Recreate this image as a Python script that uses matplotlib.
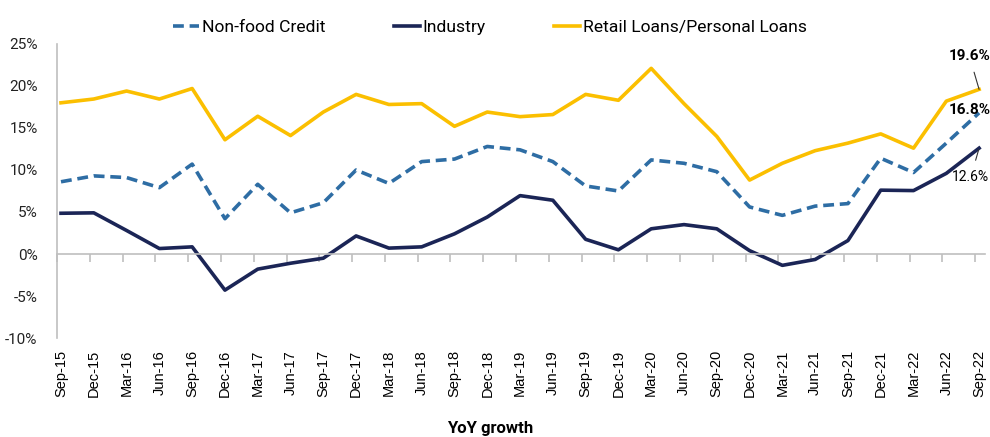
import numpy as np
import matplotlib
matplotlib.use('Agg')
import matplotlib.pyplot as plt

# quarterly labels and YoY growth (%)
quarters = ['Sep-15', 'Dec-15', 'Mar-16', 'Jun-16', 'Sep-16', 'Dec-16', 'Mar-17', 'Jun-17',
            'Sep-17', 'Dec-17', 'Mar-18', 'Jun-18', 'Sep-18', 'Dec-18', 'Mar-19', 'Jun-19',
            'Sep-19', 'Dec-19', 'Mar-20', 'Jun-20', 'Sep-20', 'Dec-20', 'Mar-21', 'Jun-21',
            'Sep-21', 'Dec-21', 'Mar-22', 'Jun-22', 'Sep-22']
non_food = [8.6, 9.3, 9.1, 7.9, 10.7, 4.2, 8.3, 4.9, 6.1, 10.0, 8.4, 11.0, 11.3, 12.8, 12.4,
            11.0, 8.1, 7.5, 11.2, 10.8, 9.8, 5.6, 4.6, 5.7, 6.0, 11.4, 9.7, 13.2, 16.8]
industry = [4.85, 4.9, 2.8, 0.65, 0.85, -4.3, -1.8, -1.1, -0.5, 2.15, 0.7, 0.85, 2.4, 4.4, 6.95,
            6.4, 1.75, 0.5, 3.0, 3.5, 3.0, 0.4, -1.35, -0.65, 1.6, 7.6, 7.55, 9.6, 12.6]
retail = [18.0, 18.45, 19.4, 18.45, 19.7, 13.6, 16.4, 14.1, 16.9, 19.0, 17.8, 17.9, 15.2, 16.9,
          16.35, 16.6, 19.0, 18.3, 22.1, 17.9, 14.0, 8.8, 10.8, 12.3, 13.2, 14.3, 12.6, 18.2, 19.6]

c_nonfood = '#2E6DA4'
c_industry = '#1B2556'
c_retail = '#FBBF00'
c_axis = '#BFBFBF'

plt.rcParams['font.family'] = ['Roboto', 'DejaVu Sans']

fig = plt.figure(figsize=(9.9, 4.37), dpi=100)
ax = fig.add_axes([57/990, 1 - 338/437, 928/990, 294/437])

x = np.arange(len(quarters))
ax.plot(x, non_food, color=c_nonfood, lw=2.6, ls=(0, (3, 1.6)), label='Non-food Credit')
ax.plot(x, industry, color=c_industry, lw=2.6, label='Industry')
ax.plot(x, retail, color=c_retail, lw=2.6, label='Retail Loans/Personal Loans')

ax.set_xlim(-0.122, 28.18)
ax.set_ylim(-10, 25)
ax.set_yticks(range(-10, 30, 5))
ax.set_yticklabels([f'{v}%' for v in range(-10, 30, 5)], fontsize=11, color='#222222')
ax.tick_params(axis='y', length=0, pad=14)

for s in ['top', 'right']:
    ax.spines[s].set_visible(False)
ax.spines['left'].set_color(c_axis)
ax.spines['left'].set_linewidth(1.2)
ax.spines['bottom'].set_position(('data', 0))
ax.spines['bottom'].set_color(c_axis)
ax.spines['bottom'].set_linewidth(1.2)

# tick marks between categories on the zero line
ax.set_xticks(x - 0.122)
ax.set_xticklabels([])
ax.tick_params(axis='x', length=6, color=c_axis, width=1.2, direction='out')

for i, q in enumerate(quarters):
    ax.text(i, -0.04, q, rotation=90, ha='center', va='top', fontsize=10.5,
            family=['Liberation Sans', 'DejaVu Sans'], transform=ax.get_xaxis_transform())

# end-point labels
ax.annotate('19.6%', xy=(28, retail[-1]), xytext=(27.7, 23.6), ha='center', va='center',
            fontsize=11, fontweight='bold',
            arrowprops=dict(arrowstyle='-', color='#333333', lw=0.8, shrinkA=5, shrinkB=0))
ax.text(27.7, 17.2, '16.8%', ha='center', va='center', fontsize=11, fontweight='bold')
ax.annotate('12.6%', xy=(28, industry[-1]), xytext=(27.75, 9.2), ha='center', va='center',
            fontsize=10,
            arrowprops=dict(arrowstyle='-', color='#333333', lw=0.8, shrinkA=5, shrinkB=1))

fig.legend(loc='center', bbox_to_anchor=(490/990, 1 - 27/437), ncol=3, frameon=False,
           fontsize=12.6, handlelength=1.5, handletextpad=0.15, columnspacing=3.9)

fig.text(490/990, 1 - 428/437, 'YoY growth', ha='center', va='center', fontsize=12,
         fontweight='bold')

fig.savefig('out.png', dpi=100)
